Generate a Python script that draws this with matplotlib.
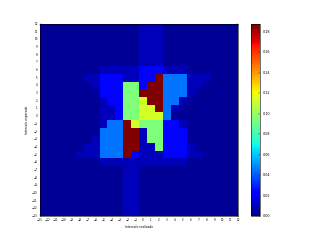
import numpy as np
import matplotlib
matplotlib.use("Agg")
import matplotlib.pyplot as plt

niveis = {".": 0.004, "a": 0.010, "b": 0.024, "c": 0.045,
          "g": 0.094, "y": 0.113, "r": 0.1875}

intervalos = list(range(-13, 13))
ticks_barra = [0.00, 0.02, 0.04, 0.06, 0.08, 0.10, 0.12, 0.14, 0.16, 0.18]

# uma linha por intervalo esperado, de 12 (topo) a -13; colunas de -13 a 12
linhas = [
    ".............aaa..........",  # 12
    ".............aaa..........",  # 11
    ".............aaa..........",  # 10
    ".............aaa..........",  # 9
    ".............aaa..........",  # 8
    ".............aaa..........",  # 7
    "........aaaaabbbaaa.......",  # 6
    "......aabbbaabbrcccaaa....",  # 5
    ".......abbbggbrrcccaa.....",  # 4
    "........bbbggrrrccca......",  # 3
    "........abbggyrrcca.......",  # 2
    "........aabggyyrca........",  # 1
    "........aabggyyyc.........",  # 0
    "........accrygggbba.......",  # -1
    "........cccrraggbbb.......",  # -2
    ".......acccrraggbbb.......",  # -3
    "......aacccrraagbbba......",  # -4
    ".....aaacccrbaaabbbaa.....",  # -5
    "........aaaaaaaaaaa.......",  # -6
    "...........aa.............",  # -7
    "...........aa.............",  # -8
    "...........aa.............",  # -9
    "...........aa.............",  # -10
    "...........aa.............",  # -11
    "...........aa.............",  # -12
    "...........aa.............",  # -13
]

vmax = 0.1875

matriz = np.array([[niveis[c] for c in linha] for linha in linhas])[::-1]
bordas = np.array(intervalos + [13]) - 0.5

plt.style.use("classic")
fig = plt.figure(figsize=(8, 6))
plt.pcolormesh(bordas, bordas, matriz, cmap="jet", vmin=0, vmax=vmax)
plt.xlim(-13, 12)
plt.ylim(-13, 12)
plt.xticks(intervalos, fontsize=5)
plt.yticks(intervalos, fontsize=5)
plt.xlabel("Intervalo realizado", fontsize=5.5)
plt.ylabel("Intervalo esperado", fontsize=5.5)
cb = plt.colorbar(ticks=ticks_barra)
cb.ax.set_yticklabels(["%.2f" % t for t in ticks_barra])
cb.ax.tick_params(labelsize=6)
fig.savefig("out.png", dpi=40)
